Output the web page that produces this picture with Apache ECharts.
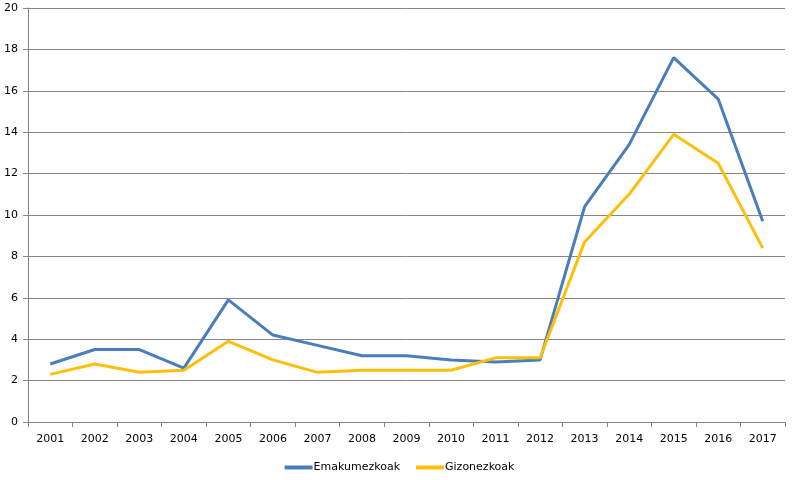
<!DOCTYPE html>
<html>
<head>
<meta charset="utf-8">
<script src="https://cdn.jsdelivr.net/npm/echarts@6/dist/echarts.min.js"></script>
<style>html,body{margin:0;padding:0;background:#fff}#c{width:799px;height:480px}</style>
</head>
<body>
<div id="c"></div>
<script>
var years = ['2001','2002','2003','2004','2005','2006','2007','2008','2009','2010','2011','2012','2013','2014','2015','2016','2017'];
var emakumezkoak = [2.8,3.5,3.5,2.6,5.9,4.2,3.7,3.2,3.2,3.0,2.9,3.0,10.4,13.4,17.6,15.6,9.7];
var gizonezkoak = [2.3,2.8,2.4,2.5,3.9,3.0,2.4,2.5,2.5,2.5,3.1,3.1,8.7,11.0,13.9,12.5,8.4];
var chart = echarts.init(document.getElementById('c'));
var font = 'DejaVu Sans';
chart.setOption({
  animation: false,
  grid: {left: 28, right: 14, top: 8, bottom: 58, containLabel: false},
  legend: {
    bottom: 2, left: 'center', itemWidth: 28, itemHeight: 4, itemGap: 16,
    icon: 'rect',
    textStyle: {fontFamily: font, fontSize: 11, color: '#000', padding: [0,0,0,-4]},
    data: ['Emakumezkoak','Gizonezkoak']
  },
  xAxis: {
    type: 'category', data: years, boundaryGap: true,
    axisLine: {lineStyle: {color: '#868686', width: 1}},
    axisTick: {show: true, length: 5, interval: 0, lineStyle: {color: '#868686'}},
    axisLabel: {fontFamily: font, fontSize: 11, color: '#000', margin: 12, interval: 0}
  },
  yAxis: {
    type: 'value', min: 0, max: 20, interval: 2,
    axisLine: {show: true, lineStyle: {color: '#868686'}},
    axisTick: {show: true, length: 5, lineStyle: {color: '#868686'}},
    axisLabel: {fontFamily: font, fontSize: 11, color: '#000', margin: 10},
    splitLine: {lineStyle: {color: '#868686', width: 1}}
  },
  series: [
    {name: 'Emakumezkoak', type: 'line', data: emakumezkoak, showSymbol: false, symbol: 'none',
     lineStyle: {color: '#4a7ebb', width: 3}, itemStyle: {color: '#4a7ebb'}},
    {name: 'Gizonezkoak', type: 'line', data: gizonezkoak, showSymbol: false, symbol: 'none',
     lineStyle: {color: '#fcc00a', width: 3}, itemStyle: {color: '#fcc00a'}}
  ]
});
</script>
</body>
</html>
